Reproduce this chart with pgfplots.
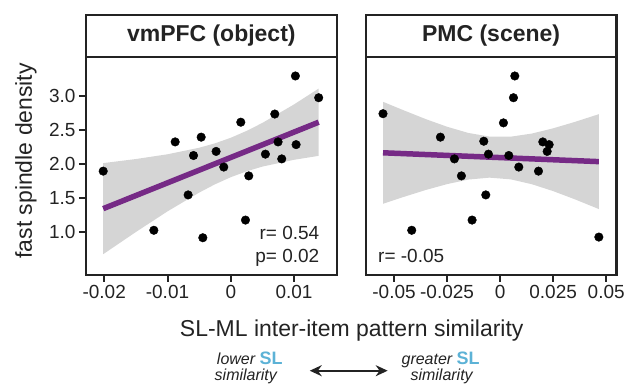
\documentclass[border=0pt]{standalone}
\usepackage{fontspec}
\setmainfont{Liberation Sans}
\usepackage{pgfplots}
\pgfplotsset{compat=1.18}
\usetikzlibrary{arrows.meta}
\definecolor{band}{RGB}{213,213,213}
\definecolor{fitp}{RGB}{118,42,134}
\definecolor{slblue}{RGB}{92,178,214}
\definecolor{frame}{RGB}{35,35,35}

\pgfplotsset{panel/.style={
  scale only axis, width=251bp, height=218bp, anchor=south west,
  axis line style={line width=2.4bp, frame},
  tick style={line width=2bp, frame},
  major tick length=7bp, tick align=outside,
  xtick pos=bottom, ytick pos=left,
  scaled x ticks=false, scaled y ticks=false,
  ymin=0.375, ymax=3.58,
  ticklabel style={font=\fontsize{19bp}{22bp}\selectfont, text=frame},
  /pgf/number format/assume math mode=true,
  clip=false,
}}

\begin{document}
\begin{tikzpicture}
\path (0,0) rectangle (628bp,390bp);

% ---------- left panel ----------
\begin{axis}[panel, at={(86bp,115bp)},
  xmin=-0.02289, xmax=0.01674,
  xtick={-0.02,-0.01,0,0.01},
  xticklabels={{-0.02},{-0.01},{0},{0.01}},
  ytick={1,1.5,2,2.5,3},
  yticklabels={{1.0},{1.5},{2.0},{2.5},{3.0}},
]
\addplot[fill=band, draw=none] coordinates {
 (-0.02016,2.018) (-0.015,2.078) (-0.01,2.148) (-0.005,2.244) (-0.0025,2.309)
 (0,2.391) (0.0025,2.492) (0.005,2.610) (0.01,2.882) (0.01389,3.115)
 (0.01389,2.125) (0.01,2.067) (0.005,1.967) (0.0025,1.897) (0,1.811)
 (-0.0025,1.706) (-0.005,1.584) (-0.01,1.308) (-0.015,1.004) (-0.02016,0.678)
};
\addplot[fitp, line width=5.5bp, no marks] coordinates {(-0.02016,1.348) (0.01389,2.620)};
\addplot[only marks, mark=*, mark size=4.3bp, black] coordinates {
 (-0.02016,1.90) (-0.01216,1.03) (-0.00879,2.33) (-0.00674,1.55) (-0.00589,2.13)
 (-0.00468,2.40) (-0.00442,0.92) (-0.00232,2.19) (-0.00111,1.96) (0.00158,2.62)
 (0.00232,1.18) (0.00284,1.83) (0.00547,2.15) (0.00695,2.74) (0.00747,2.33)
 (0.00805,2.08) (0.01021,3.30) (0.01032,2.29) (0.01389,2.98)
};
\draw[line width=2.4bp, frame] (rel axis cs:0,1) -- ([yshift=42bp]rel axis cs:0,1) -- ([yshift=42bp]rel axis cs:1,1) -- (rel axis cs:1,1);
\node[font=\fontsize{23bp}{26bp}\selectfont\bfseries, text=frame] at ([yshift=21bp]rel axis cs:0.5,1) {vmPFC (object)};
\end{axis}

% ---------- right panel ----------
\begin{axis}[panel, at={(366bp,115bp)},
  xmin=-0.06335, xmax=0.05486,
  xtick={-0.05,-0.025,0,0.025,0.05},
  xticklabels={{-0.05},{-0.025},{0},{0.025},{0.05}},
  ytick=\empty,
]
\addplot[fill=band, draw=none] coordinates {
 (-0.0552,2.920) (-0.045,2.789) (-0.035,2.665) (-0.025,2.553) (-0.015,2.462)
 (-0.005,2.408) (0.005,2.407) (0.015,2.453) (0.025,2.530) (0.035,2.622) (0.04653,2.738)
 (0.04653,1.342) (0.035,1.488) (0.025,1.606) (0.015,1.707) (0.005,1.779)
 (-0.005,1.804) (-0.015,1.776) (-0.025,1.709) (-0.035,1.623) (-0.045,1.525) (-0.0552,1.420)
};
\addplot[fitp, line width=5.5bp, no marks] coordinates {(-0.0552,2.17) (0.04653,2.04)};
\addplot[only marks, mark=*, mark size=4.3bp, black] coordinates {
 (-0.0552,2.745) (-0.04166,1.03) (-0.02814,2.40) (-0.02154,2.08) (-0.01824,1.83)
 (-0.01321,1.18) (-0.0077,2.34) (-0.00676,1.55) (-0.0055,2.15) (0.00157,2.61)
 (0.00409,2.13) (0.00629,2.98) (0.00692,3.30) (0.0088,1.96) (0.01808,1.90)
 (0.02012,2.33) (0.02217,2.19) (0.02311,2.29) (0.04653,0.93)
};
\draw[line width=2.4bp, frame] (rel axis cs:0,1) -- ([yshift=42bp]rel axis cs:0,1) -- ([yshift=42bp]rel axis cs:1,1) -- (rel axis cs:1,1);
\node[font=\fontsize{23bp}{26bp}\selectfont\bfseries, text=frame] at ([yshift=21bp]rel axis cs:0.5,1) {PMC (scene)};
\end{axis}

% ---------- annotations ----------
\node[anchor=base east, font=\fontsize{19bp}{22bp}\selectfont, text=frame] at (323bp,150bp) {r= 0.54};
\node[anchor=base east, font=\fontsize{19bp}{22bp}\selectfont, text=frame] at (323bp,127bp) {p= 0.02};
\node[anchor=base west, font=\fontsize{19bp}{22bp}\selectfont, text=frame] at (375bp,127bp) {r= -0.05};

\node[rotate=90, anchor=base, font=\fontsize{23bp}{26bp}\selectfont, text=frame] at (32bp,229bp) {fast spindle density};
\node[anchor=base, font=\fontsize{23bp}{26bp}\selectfont, text=frame] at (352bp,53bp) {SL-ML inter-item pattern similarity};

\node[anchor=base, font=\fontsize{16bp}{18bp}\selectfont\itshape, text=frame] at (250bp,25bp) {lower \textcolor{slblue}{\upshape\bfseries\fontsize{18bp}{20bp}\selectfont SL}};
\node[anchor=base, font=\fontsize{16bp}{18bp}\selectfont\itshape, text=frame] at (246bp,9bp) {similarity};
\node[anchor=base, font=\fontsize{16bp}{18bp}\selectfont\itshape, text=frame] at (441bp,25bp) {greater \textcolor{slblue}{\upshape\bfseries\fontsize{18bp}{20bp}\selectfont SL}};
\node[anchor=base, font=\fontsize{16bp}{18bp}\selectfont\itshape, text=frame] at (442bp,9bp) {similarity};
\draw[{Stealth[length=12bp,width=11bp]}-{Stealth[length=12bp,width=11bp]}, line width=2.2bp, frame] (310bp,19bp) -- (388bp,19bp);
\end{tikzpicture}
\end{document}
